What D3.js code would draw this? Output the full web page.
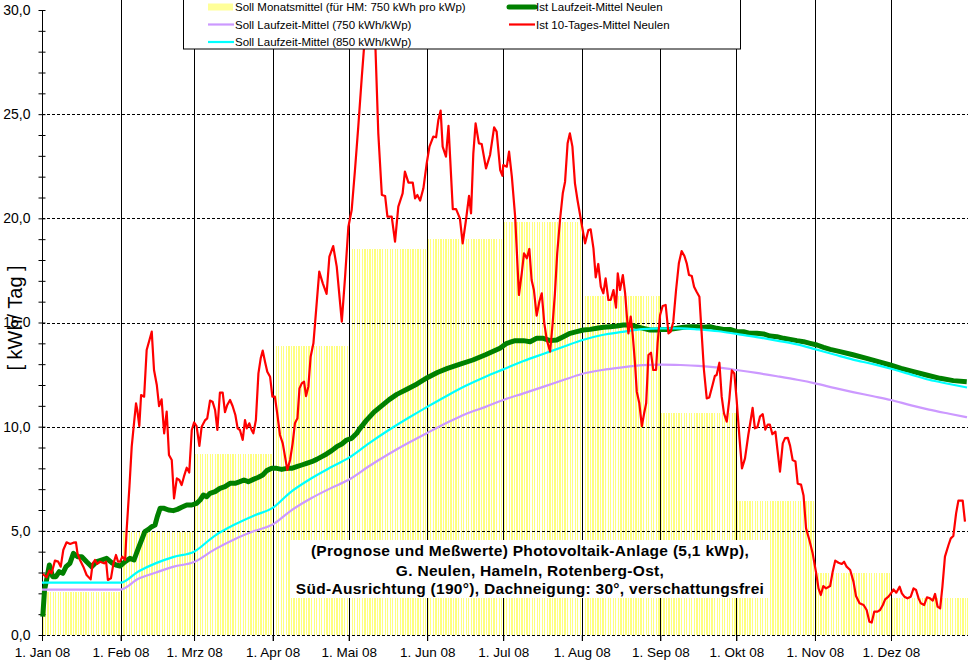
<!DOCTYPE html>
<html>
<head>
<meta charset="utf-8">
<script src="https://cdn.jsdelivr.net/npm/d3@7"></script>
<style>
  body { margin: 0; background: #fff; }
  svg { display: block; font-family: "Liberation Sans", Arial, sans-serif; }
</style>
</head>
<body>
<div id="chart"></div>
<script>
// Soll-Monatsmittel (kWh/Tag), Jan..Dez
const monthLabels = ["1. Jan 08", "1. Feb 08", "1. Mrz 08", "1. Apr 08", "1. Mai 08", "1. Jun 08",
  "1. Jul 08", "1. Aug 08", "1. Sep 08", "1. Okt 08", "1. Nov 08", "1. Dez 08"];
const sollMonat = [2.08, 4.93, 8.69, 13.89, 18.52, 19.0, 19.84, 16.27, 10.67, 6.43, 2.99, 1.79];
const yTicks = [0, 5, 10, 15, 20, 25, 30];

// [Tag im Jahr, Wert]
const soll750 = [[0,2.18],[31,2.18],[38,2.7],[45,3.0],[52,3.28],[60,3.5],[68,4.1],[76,4.6],[84,5.0],[91,5.3],
  [98,5.95],[106,6.55],[114,7.05],[121,7.45],[129,8.1],[137,8.7],[145,9.25],[152,9.7],[160,10.2],[167,10.6],
  [175,10.95],[182,11.28],[190,11.6],[198,11.92],[206,12.25],[213,12.53],[221,12.72],[229,12.85],[237,12.95],
  [244,12.98],[252,12.96],[259,12.92],[267,12.83],[274,12.72],[282,12.58],[290,12.42],[298,12.25],[305,12.08],
  [313,11.85],[320,11.66],[328,11.46],[335,11.28],[343,11.02],[350,10.82],[358,10.62],[365,10.45]];

const soll850 = [[0,2.51],[31,2.51],[38,3.05],[45,3.45],[52,3.75],[60,4.0],[68,4.75],[76,5.3],[84,5.75],[91,6.1],
  [98,6.85],[106,7.5],[114,8.05],[121,8.5],[129,9.2],[137,9.85],[145,10.45],[152,10.95],[160,11.5],[167,11.95],
  [175,12.4],[182,12.75],[190,13.15],[198,13.5],[206,13.85],[213,14.15],[221,14.4],[229,14.55],[237,14.68],
  [244,14.72],[252,14.72],[259,14.67],[267,14.58],[274,14.45],[282,14.3],[290,14.13],[298,13.95],[305,13.72],
  [313,13.45],[320,13.22],[328,13.0],[335,12.78],[343,12.5],[350,12.25],[358,12.05],[365,11.88]];

const istLaufzeit = [[0.3,0.88],[1,2.16],[1.8,2.64],[2.9,3.36],[4.2,2.8],[5.5,2.8],[6.8,3.04],[8.2,2.96],[9.5,3.28],
  [11,3.44],[12.4,3.92],[14,3.76],[15.7,3.76],[17.6,3.52],[19.6,3.28],[21.6,3.52],[23.5,3.6],[25.5,3.68],[27.5,3.47],
  [29.2,3.36],[30.8,3.31],[32.8,3.52],[34.7,3.68],[36.3,3.6],[38,4.16],[39.3,4.56],[40.6,4.96],[42,5.07],[43.3,5.2],
  [44.6,5.28],[45.5,5.68],[46.6,6.08],[48.2,6.08],[49.9,6.0],[51.8,5.97],[53.4,6.03],[55.1,6.13],[57.1,6.24],
  [59.1,6.24],[61,6.32],[62.4,6.48],[63.7,6.72],[65,6.64],[66.3,6.8],[68.3,6.88],[70.2,7.04],[72.2,7.12],[74.2,7.28],
  [76.2,7.28],[78.1,7.36],[79.7,7.44],[81.4,7.36],[83.4,7.47],[85.4,7.57],[87.1,7.68],[88.7,7.89],[90.6,8.0],
  [92.6,8.0],[94.6,7.95],[96.6,8.0],[98.5,8.0],[100.5,8.08],[102.5,8.16],[104.4,8.24],[106.4,8.32],[108.4,8.43],
  [110.4,8.56],[112.3,8.69],[114.3,8.85],[116.3,9.04],[118.3,9.17],[120.2,9.36],[122.2,9.44],[124.2,9.68],[125.2,9.87],
  [128,10.3],[131,10.7],[134,11.0],[137,11.3],[140,11.55],[144,11.8],[148,12.05],[152,12.35],[156,12.6],[160,12.8],
  [165,13.0],[170,13.2],[175,13.45],[180.7,13.76],[183.4,14.0],[186.7,14.13],[190,14.13],[192.6,14.08],[195.2,14.24],
  [197.8,14.24],[200.5,14.13],[203.1,14.16],[205.7,14.32],[208.4,14.48],[211,14.56],[213.6,14.64],[216.3,14.67],
  [218.9,14.72],[221.5,14.77],[224.2,14.8],[226.8,14.83],[229.4,14.88],[232.1,14.88],[234.7,14.8],[237.3,14.72],
  [240,14.64],[242.6,14.64],[245.2,14.67],[247.9,14.67],[250.5,14.72],[253.1,14.77],[255.7,14.8],[258.4,14.8],
  [261,14.77],[263.6,14.8],[266.3,14.72],[268.9,14.67],[271.5,14.67],[274.2,14.56],[276.8,14.56],[279.4,14.48],
  [282.1,14.48],[284.7,14.45],[287.3,14.35],[290,14.32],[292.6,14.24],[295.2,14.19],[297.9,14.13],[300.5,14.08],
  [303.1,14.0],[305.8,13.92],[308.4,13.81],[311,13.71],[314.9,13.6],[320,13.45],[325.4,13.28],[330,13.12],
  [334.7,12.96],[339,12.8],[343.9,12.64],[349,12.48],[354.4,12.32],[359.6,12.21],[364.9,12.16]];

const ist10Tage = [[0.3,2.93],[1.8,2.77],[2.9,3.09],[3.8,2.96],[5.1,3.57],[6.4,3.52],[7.4,3.28],[8.4,4.08],[9.7,4.45],
  [11.1,4.37],[12.4,4.43],[13.4,4.45],[14,3.92],[15,3.6],[16.3,3.28],[17.6,2.88],[19.2,2.67],[20,3.44],[20.9,3.6],
  [21.8,3.41],[22.9,3.52],[24.5,3.44],[25.3,3.52],[26,2.64],[27.2,2.72],[28.2,3.44],[29.2,3.84],[30,3.52],[30.8,3.52],
  [31.7,3.76],[32.8,3.6],[33.4,5.04],[34.5,7.12],[35.4,9.04],[36.3,10.16],[37.1,11.12],[37.6,10.8],[38.4,10.03],
  [39.1,11.52],[40.3,11.44],[41.3,13.68],[42.4,14.16],[43.3,14.56],[44.2,12.72],[45.3,12.0],[46.2,10.99],[47.2,11.31],
  [48.2,9.68],[49.2,10.72],[50.1,8.64],[51.2,8.4],[52.1,6.56],[53.2,7.52],[54.2,7.44],[55.1,7.2],[56,7.6],[57.1,8.03],
  [58.1,7.8],[59.1,9.84],[60,10.2],[61,10.03],[62.1,9.08],[63,10.0],[64.3,10.3],[65.2,10.4],[66.3,11.25],[67.3,11.2],
  [68.3,10.8],[69.2,9.84],[70.2,11.63],[71.3,11.63],[72.2,10.7],[73.1,11.04],[74.2,11.28],[75.2,10.99],[76.3,10.56],
  [77.2,9.92],[78.1,9.84],[79.2,9.36],[80.1,10.32],[80.8,9.92],[81.8,10.16],[82.7,9.84],[83.4,9.68],[84.4,10.32],
  [85.4,12.56],[86.3,13.28],[87.1,13.65],[88,13.12],[88.9,12.64],[90,12.4],[90.9,11.44],[91.9,11.44],[92.9,10.56],
  [93.9,9.6],[95,9.2],[95.9,8.56],[96.8,7.92],[97.9,8.4],[98.9,9.2],[99.8,10.16],[100.8,10.4],[101.6,11.84],
  [102.5,12.08],[103.4,12.16],[104.2,11.47],[105.1,11.92],[106,13.36],[107.1,14.0],[107.8,15.04],[109.4,17.44],
  [110.8,16.88],[112.3,16.37],[113.4,18.16],[114.9,18.67],[116.3,17.68],[118.3,15.04],[119.6,17.2],[120.9,19.6],
  [122.2,20.4],[123.5,22.32],[124.8,24.4],[126.2,26.8],[127.1,28.24],[128.5,29.8],[130.2,29.6],[131.6,28.1],
  [132.7,24.08],[134.1,21.12],[135.4,21.07],[136.3,20.08],[138,20.08],[139.3,18.88],[140.6,20.56],[142.3,21.2],
  [143.2,22.24],[144.6,21.71],[146.3,21.71],[147.2,20.96],[148.1,21.12],[149.2,20.85],[150.5,21.44],[151.8,22.64],
  [152.9,23.44],[154.4,23.92],[155.5,23.89],[156.4,24.72],[157.3,25.17],[158.1,23.44],[159.4,22.96],[160.4,24.44],
  [162.1,20.44],[163.4,20.44],[164.9,20.0],[166,18.8],[167.3,19.92],[168.5,21.08],[169.3,20.24],[170.2,23.12],
  [171.1,24.56],[172.4,23.6],[173.5,23.57],[175.2,22.4],[176.8,23.04],[178.4,24.37],[179.4,24.16],[180.8,22.32],
  [181.7,22.04],[182,22.56],[183.4,22.48],[184.3,23.2],[185.4,22.0],[186.7,20.08],[188.2,16.32],[189.3,17.36],
  [190.2,18.32],[191.3,18.08],[192.3,18.53],[193.2,17.04],[194.1,16.56],[195.2,15.33],[196.3,16.03],[197.2,16.4],
  [198.2,14.96],[199.2,14.16],[200.5,13.6],[201.5,14.96],[202.4,16.4],[203.3,18.32],[204.4,19.92],[205.5,21.2],
  [206.4,21.76],[207.4,23.6],[208.3,24.08],[209.3,23.44],[210.3,21.68],[211.3,20.88],[212.9,19.76],[214.3,18.8],
  [215.6,19.44],[216.5,19.47],[217.6,18.56],[218.5,17.17],[219.5,17.81],[220.5,16.72],[221.5,16.4],[222.4,17.12],
  [223.5,16.08],[224.4,16.08],[225.5,16.56],[226.5,15.71],[227.2,17.36],[228.1,16.56],[229.2,17.28],[230.1,16.4],
  [230.8,15.28],[231.4,14.48],[232.3,15.28],[233.1,14.4],[234,13.04],[234.7,11.68],[235.7,11.12],[236.7,10.03],
  [237.6,10.64],[238.4,11.12],[239.3,13.44],[240.3,13.55],[241.2,12.72],[242.3,12.72],[242.9,14.0],[243.9,15.36],
  [244.9,15.79],[246.1,15.84],[247.2,14.48],[248.1,14.56],[249.1,15.04],[250.2,16.56],[251.3,17.84],[252.4,18.43],
  [253.5,18.19],[254.4,17.84],[255.3,17.28],[256.4,17.23],[257.3,16.72],[258.3,16.48],[259.4,16.24],[260.3,14.48],
  [261.2,12.72],[262.3,11.36],[263.3,11.4],[264.6,12.0],[265.5,12.43],[266.2,12.48],[267.3,13.07],[268.2,11.44],
  [269.1,10.64],[270.2,10.24],[271.2,11.3],[272.2,12.7],[273.2,12.55],[274.1,11.3],[275.2,9.5],[276.2,8.0],
  [277.4,8.48],[278.7,9.6],[279.5,10.2],[280.4,10.9],[281.3,9.92],[282.3,9.97],[283.3,10.48],[284.4,10.6],
  [285.4,9.86],[286.4,10.1],[287.2,10.1],[288.2,9.64],[289.4,9.76],[290.2,8.9],[291.2,7.84],[292.3,9.2],[293.2,9.45],
  [294.3,9.46],[295.2,9.08],[296.2,8.4],[297.3,8.33],[298.2,7.26],[299.5,7.22],[300.5,6.7],[301.5,5.12],[302.8,4.56],
  [304.1,3.92],[305.5,2.96],[306.4,2.24],[307.3,1.92],[308.3,2.35],[309.4,2.24],[311,2.35],[312,3.04],[313,3.57],
  [314.3,3.47],[315.6,3.41],[316.5,3.52],[317.5,3.28],[318.9,3.12],[320.2,2.56],[321.2,1.87],[322.6,1.52],
  [324.2,1.44],[325.4,1.2],[326.5,0.64],[327.4,0.6],[328.4,1.12],[329.7,1.12],[330.7,1.2],[331.8,1.44],[332.7,1.71],
  [334,1.84],[335,2.0],[336,2.19],[337.1,2.03],[338.4,2.32],[339.3,2.0],[340.3,1.84],[341.5,1.76],[342.8,1.84],
  [343.9,2.24],[344.9,2.16],[345.9,1.76],[346.8,1.52],[348.1,1.44],[349.2,1.81],[350.4,1.76],[351.5,1.65],
  [352.4,1.97],[353.4,1.36],[354.4,1.28],[355.3,2.32],[356.3,3.76],[357.7,4.32],[358.6,4.64],[359.6,4.75],
  [360.7,5.84],[361.6,6.45],[363.3,6.45],[364.2,5.44]];

const infoLines = [
  "(Prognose und Meßwerte)  Photovoltaik-Anlage (5,1 kWp),",
  "G. Neulen, Hameln, Rotenberg-Ost,",
  "Süd-Ausrichtung (190°), Dachneigung: 30°, verschattungsfrei"
];

const width = 968, height = 660;
const t0 = Date.UTC(2008, 0, 1), t1 = Date.UTC(2008, 11, 31);
const dayDate = d => new Date(t0 + d * 864e5);

const x = d3.scaleUtc().domain([t0, t1]).range([42, 967]);
const y = d3.scaleLinear().domain([0, 30]).range([635, 10]);

const svg = d3.select("#chart").append("svg")
    .attr("width", width)
    .attr("height", height);

svg.append("rect").attr("width", width).attr("height", height).attr("fill", "#fff");

// Tagesbalken Soll-Monatsmittel
const days = d3.utcDay.range(new Date(t0), new Date(Date.UTC(2009, 0, 1)));
svg.append("g")
    .attr("shape-rendering", "crispEdges")
  .selectAll("rect")
  .data(days)
  .join("rect")
    .attr("x", d => x(d) + 0.4)
    .attr("width", 1.3)
    .attr("y", d => y(sollMonat[d.getUTCMonth()]))
    .attr("height", d => y(0) - y(sollMonat[d.getUTCMonth()]))
    .attr("fill", "#ffff80");

// horizontale Gitterlinien
svg.append("g")
  .selectAll("line")
  .data(yTicks.filter(v => v < 30))
  .join("line")
    .attr("x1", 42).attr("x2", width)
    .attr("y1", d => Math.round(y(d)) + 0.5).attr("y2", d => Math.round(y(d)) + 0.5)
    .attr("stroke", "#000")
    .attr("stroke-dasharray", "3,2");

// Monatslinien
const months = d3.utcMonth.range(new Date(t0), new Date(t1));
svg.append("g")
  .selectAll("line")
  .data(months.slice(1))
  .join("line")
    .attr("x1", d => Math.round(x(d)) + 0.5).attr("x2", d => Math.round(x(d)) + 0.5)
    .attr("y1", 0).attr("y2", 641)
    .attr("stroke", "#000");

// x-Achse
svg.append("g")
    .attr("transform", `translate(0,${y(0)})`)
    .call(d3.axisBottom(x).tickValues(months).tickSize(6).tickSizeOuter(0)
      .tickFormat((d, i) => monthLabels[i]))
    .call(g => g.select(".domain").remove())
    .call(g => g.selectAll("text").attr("font-size", 13.5).attr("font-family", "Liberation Sans, Arial")
      .attr("fill", "#000").attr("dy", "0.95em"));

// y-Achse
svg.append("g")
    .attr("transform", "translate(42.5,0)")
    .call(d3.axisLeft(y).ticks(30).tickSize(0).tickFormat(""))
    .call(g => g.selectAll(".tick line").attr("x1", -4).attr("x2", 3))
    .call(g => g.select(".domain").attr("d", `M0,${y(30)}V${y(0)}`));
svg.append("g")
    .attr("transform", "translate(42.5,0)")
    .call(d3.axisLeft(y).tickValues(yTicks).tickSize(0).tickPadding(12)
      .tickFormat(d => d.toFixed(1).replace(".", ",")))
    .call(g => g.select(".domain").remove())
    .call(g => g.selectAll("text").attr("font-size", 14).attr("font-family", "Liberation Sans, Arial")
      .attr("fill", "#000"));

svg.append("text")
    .attr("transform", "translate(22,318) rotate(-90)")
    .attr("text-anchor", "middle")
    .attr("font-size", 20)
    .text("[ kWh/ Tag ]");

// Infobox
svg.append("rect")
    .attr("x", 290).attr("y", 540).attr("width", 480).attr("height", 58)
    .attr("fill", "#fff");
svg.append("g")
  .selectAll("text")
  .data(infoLines)
  .join("text")
    .attr("x", 530)
    .attr("y", (d, i) => [556, 575.5, 594][i])
    .attr("text-anchor", "middle")
    .attr("font-size", 15.5)
    .attr("letter-spacing", 0.3)
    .attr("font-weight", "bold")
    .attr("fill", "#000")
    .text(d => d);

// Linien
const line = d3.line()
    .x(d => x(dayDate(d[0])))
    .y(d => y(d[1]));
const smooth = d3.line()
    .x(d => x(dayDate(d[0])))
    .y(d => y(d[1]))
    .curve(d3.curveMonotoneX);

svg.append("path").datum(istLaufzeit)
    .attr("d", line).attr("fill", "none")
    .attr("stroke", "#008000").attr("stroke-width", 5).attr("stroke-linejoin", "round");
svg.append("path").datum(soll750)
    .attr("d", smooth).attr("fill", "none")
    .attr("stroke", "#cc99ff").attr("stroke-width", 2.2);
svg.append("path").datum(soll850)
    .attr("d", smooth).attr("fill", "none")
    .attr("stroke", "#00ffff").attr("stroke-width", 2.2);
svg.append("path").datum(ist10Tage)
    .attr("d", line).attr("fill", "none")
    .attr("stroke", "#ff0000").attr("stroke-width", 2.2).attr("stroke-linejoin", "round");

// Legende
const legend = svg.append("g").attr("font-size", 11.5).attr("fill", "#000");
legend.append("rect")
    .attr("x", 183.5).attr("y", -5).attr("width", 557).attr("height", 54)
    .attr("fill", "#fff").attr("stroke", "#000");

const legendItems = [
  { label: "Soll Monatsmittel (für HM: 750 kWh pro kWp)", x: 208, y: 7, kind: "bar", color: "#ffff99" },
  { label: "Soll Laufzeit-Mittel (750 kWh/kWp)", x: 208, y: 24.5, kind: "line", color: "#cc99ff", w: 2.2 },
  { label: "Soll Laufzeit-Mittel (850 kWh/kWp)", x: 208, y: 42, kind: "line", color: "#00ffff", w: 2.2 },
  { label: "Ist Laufzeit-Mittel Neulen", x: 509, y: 7, kind: "line", color: "#008000", w: 5 },
  { label: "Ist 10-Tages-Mittel Neulen", x: 509, y: 24.5, kind: "line", color: "#ff0000", w: 2.2 }
];
legendItems.forEach(it => {
  if (it.kind === "bar") {
    legend.append("rect").attr("x", it.x).attr("y", it.y - 3.5).attr("width", 25).attr("height", 7)
      .attr("fill", it.color);
  } else {
    legend.append("line").attr("x1", it.x).attr("x2", it.x + 26).attr("y1", it.y).attr("y2", it.y)
      .attr("stroke", it.color).attr("stroke-width", it.w)
      .attr("stroke-linecap", it.w > 3 ? "round" : "butt");
  }
  legend.append("text").attr("x", it.x + 27).attr("y", it.y).attr("dy", "0.35em").text(it.label);
});
</script>
</body>
</html>
